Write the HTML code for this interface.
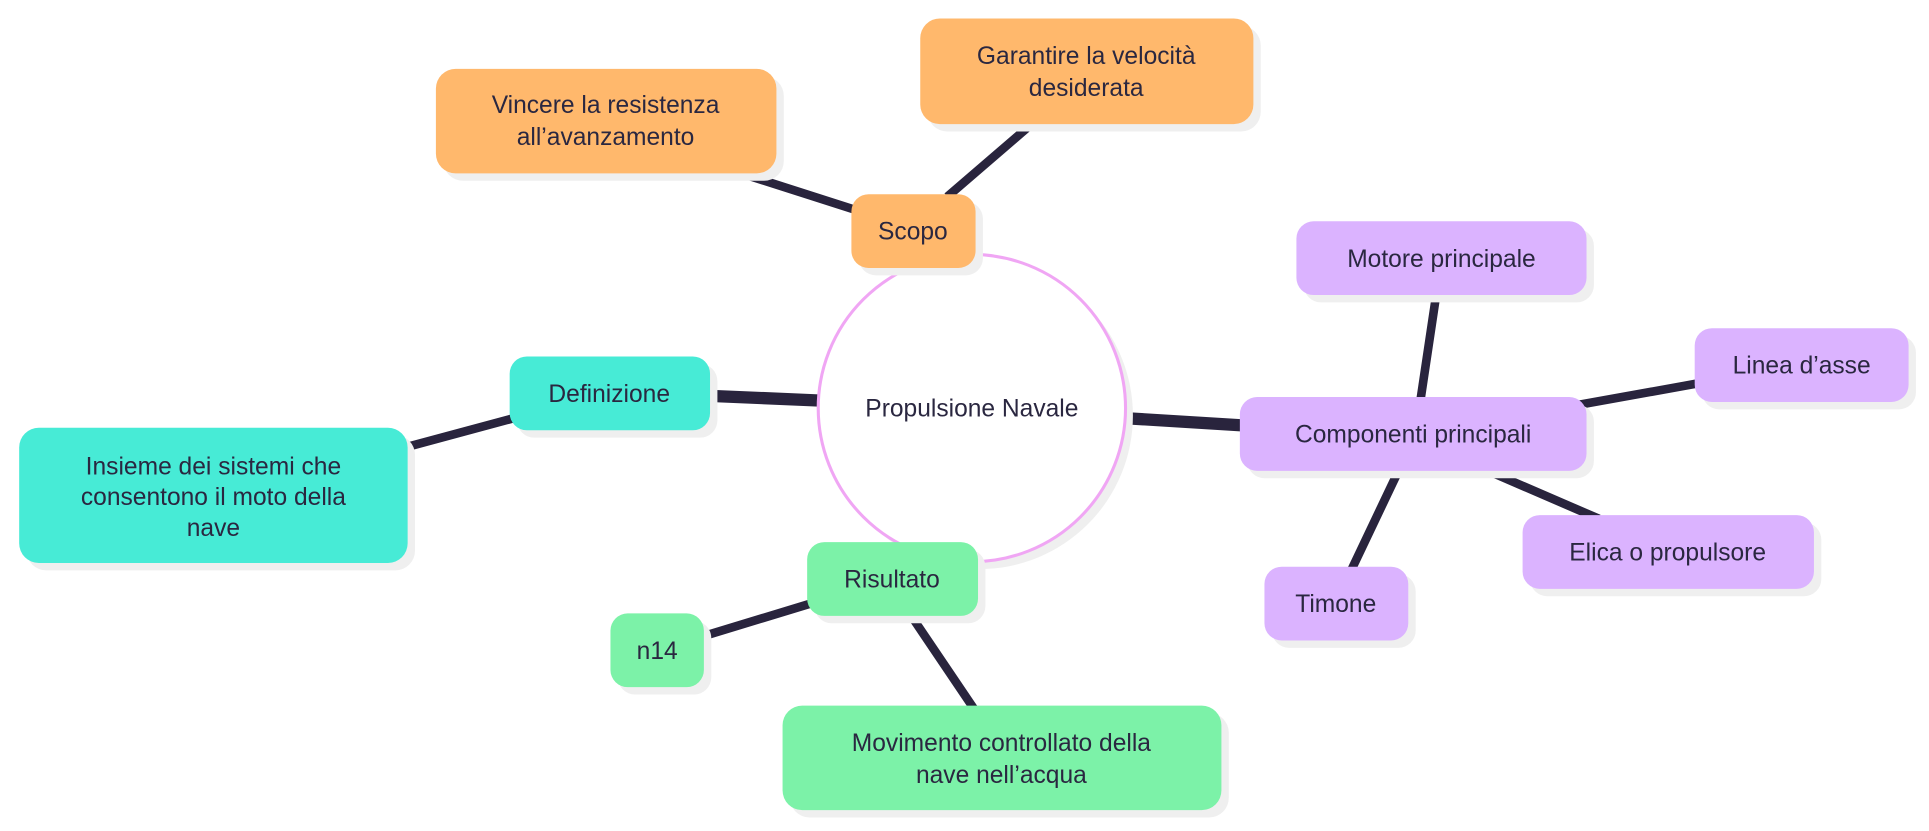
<!DOCTYPE html>
<html><head><meta charset="utf-8"><style>
html,body{margin:0;padding:0;background:#fff;}
svg{display:block;}
text{font-family:"Liberation Sans",sans-serif;font-size:20px;fill:#2a2740;text-anchor:middle;}
</style></head><body>
<svg width="1929" height="831" viewBox="0 0 1568 676" xmlns="http://www.w3.org/2000/svg">
<g stroke="#29243d" stroke-linecap="butt" fill="none">
<line x1="577" y1="322" x2="670" y2="326" stroke-width="10"/>
<line x1="912" y1="340" x2="1010" y2="346" stroke-width="10"/>
<line x1="770" y1="160" x2="842" y2="98" stroke-width="7"/>
<line x1="696" y1="171" x2="596" y2="139" stroke-width="7"/>
<line x1="418" y1="340" x2="329" y2="364" stroke-width="7"/>
<line x1="662" y1="490" x2="570" y2="518" stroke-width="7"/>
<line x1="740" y1="500" x2="792" y2="577" stroke-width="7"/>
<line x1="1155" y1="325" x2="1168" y2="238" stroke-width="7"/>
<line x1="1280" y1="330" x2="1380" y2="312" stroke-width="7"/>
<line x1="1205" y1="381" x2="1300" y2="422" stroke-width="7"/>
<line x1="1138" y1="381" x2="1099" y2="463" stroke-width="7"/>
</g>
<circle cx="796" cy="338" r="125" fill="#efefef"/>
<circle cx="790" cy="332" r="125" fill="#fff" stroke="#f0a6f4" stroke-width="2.5"/>
<text x="790" y="339">Propulsione Navale</text>
<g>
<rect x="698" y="164" width="101" height="60" rx="14" fill="#efefef"/>
<rect x="692" y="158" width="101" height="60" rx="14" fill="#ffb86c"/>
<rect x="360" y="62" width="277" height="85" rx="16" fill="#efefef"/>
<rect x="354" y="56" width="277" height="85" rx="16" fill="#ffb86c"/>
<rect x="754" y="21" width="271" height="86" rx="16" fill="#efefef"/>
<rect x="748" y="15" width="271" height="86" rx="16" fill="#ffb86c"/>
<rect x="420" y="296" width="163" height="60" rx="14" fill="#efefef"/>
<rect x="414" y="290" width="163" height="60" rx="14" fill="#47ebd6"/>
<rect x="21" y="354" width="316" height="110" rx="16" fill="#efefef"/>
<rect x="15" y="348" width="316" height="110" rx="16" fill="#47ebd6"/>
<rect x="662" y="447" width="139" height="60" rx="14" fill="#efefef"/>
<rect x="656" y="441" width="139" height="60" rx="14" fill="#7cf2a8"/>
<rect x="502" y="505" width="76" height="60" rx="14" fill="#efefef"/>
<rect x="496" y="499" width="76" height="60" rx="14" fill="#7cf2a8"/>
<rect x="642" y="580" width="357" height="85" rx="16" fill="#efefef"/>
<rect x="636" y="574" width="357" height="85" rx="16" fill="#7cf2a8"/>
<rect x="1014" y="329" width="282" height="60" rx="14" fill="#efefef"/>
<rect x="1008" y="323" width="282" height="60" rx="14" fill="#dbb3ff"/>
<rect x="1060" y="186" width="236" height="60" rx="14" fill="#efefef"/>
<rect x="1054" y="180" width="236" height="60" rx="14" fill="#dbb3ff"/>
<rect x="1384" y="273" width="174" height="60" rx="14" fill="#efefef"/>
<rect x="1378" y="267" width="174" height="60" rx="14" fill="#dbb3ff"/>
<rect x="1244" y="425" width="237" height="60" rx="14" fill="#efefef"/>
<rect x="1238" y="419" width="237" height="60" rx="14" fill="#dbb3ff"/>
<rect x="1034" y="467" width="117" height="60" rx="14" fill="#efefef"/>
<rect x="1028" y="461" width="117" height="60" rx="14" fill="#dbb3ff"/>
</g>
<text x="742" y="195">Scopo</text>
<text x="492" y="92">Vincere la resistenza</text>
<text x="492" y="118">all’avanzamento</text>
<text x="883" y="52">Garantire la velocità</text>
<text x="883" y="78">desiderata</text>
<text x="495" y="327">Definizione</text>
<text x="173" y="386">Insieme dei sistemi che</text>
<text x="173" y="411">consentono il moto della</text>
<text x="173" y="436">nave</text>
<text x="725" y="478">Risultato</text>
<text x="534" y="536">n14</text>
<text x="814" y="611">Movimento controllato della</text>
<text x="814" y="637">nave nell’acqua</text>
<text x="1149" y="360">Componenti principali</text>
<text x="1172" y="217">Motore principale</text>
<text x="1465" y="304">Linea d’asse</text>
<text x="1356" y="456">Elica o propulsore</text>
<text x="1086" y="498">Timone</text>
</svg>
</body></html>
